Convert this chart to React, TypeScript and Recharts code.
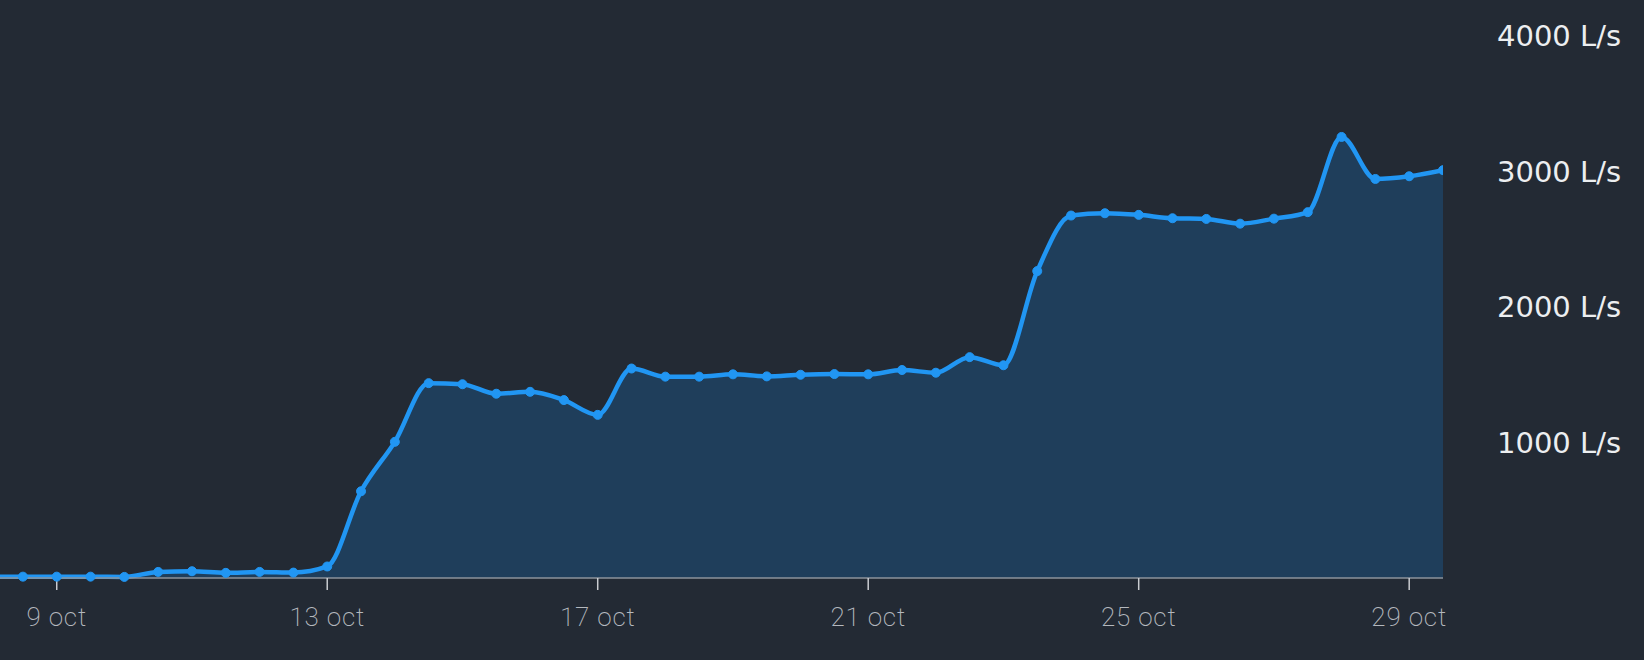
import React from "react";
import { AreaChart, Area, XAxis, YAxis } from "recharts";

// x positions in days of October (12-hour sampling)
const days: number[] = [
  8, 8.5, 9, 9.5, 10, 10.5, 11, 11.5, 12, 12.5, 13, 13.5, 14, 14.5, 15, 15.5,
  16, 16.5, 17, 17.5, 18, 18.5, 19, 19.5, 20, 20.5, 21, 21.5, 22, 22.5, 23,
  23.5, 24, 24.5, 25, 25.5, 26, 26.5, 27, 27.5, 28, 28.5, 29, 29.5,
];

// flow in L/s
const flow: number[] = [
  10, 10, 10, 10, 8, 45, 50, 38, 45, 40, 85, 640, 1005, 1438, 1430, 1360,
  1374, 1313, 1204, 1546, 1486, 1486, 1503, 1488, 1500, 1505, 1503, 1535,
  1515, 1630, 1570, 2265, 2675, 2692, 2680, 2655, 2650, 2615, 2652, 2700,
  3255, 2945, 2965, 3010,
];

const xTicks: number[] = [9, 13, 17, 21, 25, 29];
const yTicks: number[] = [1000, 2000, 3000, 4000];

const data = days.map((d, i) => ({ day: d, flow: flow[i] }));

export default function App() {
  return (
    <div
      style={{
        position: "absolute",
        left: 0,
        top: 0,
        width: 1644,
        height: 660,
        background: "#232a34",
        overflow: "hidden",
      }}
    >
      <AreaChart
        width={1644}
        height={660}
        data={data}
        margin={{ top: 36, right: 0, bottom: 0, left: 0 }}
      >
        <XAxis
          dataKey="day"
          type="number"
          domain={[8.161, 29.5]}
          allowDataOverflow
          ticks={xTicks}
          tickFormatter={(v: number) => `${v} oct`}
          height={82}
          axisLine={{ stroke: "#8d939b", strokeWidth: 1.5 }}
          tickLine={{ stroke: "#c9ccd1", strokeWidth: 1.5 }}
          tickSize={12}
          tickMargin={18}
          tick={{
            fill: "#b4b8be",
            fontSize: 26,
            fontFamily: "Roboto",
            fontWeight: 200,
            letterSpacing: 0.8,
          }}
        />
        <YAxis
          orientation="right"
          type="number"
          domain={[0, 4000]}
          ticks={yTicks}
          tickFormatter={(v: number) => `${v} L/s`}
          width={201}
          axisLine={false}
          tickLine={false}
          tickSize={0}
          tickMargin={54}
          tick={{ fill: "#eceef0", fontSize: 29, fontFamily: "DejaVu Sans" }}
        />
        <Area
          type="monotone"
          dataKey="flow"
          stroke="#2196f3"
          strokeWidth={4.5}
          fill="#1f3e5b"
          fillOpacity={1}
          dot={{ r: 4.5, fill: "#2196f3", stroke: "#2196f3", strokeWidth: 1 }}
          activeDot={false}
          isAnimationActive={false}
        />
      </AreaChart>
    </div>
  );
}
